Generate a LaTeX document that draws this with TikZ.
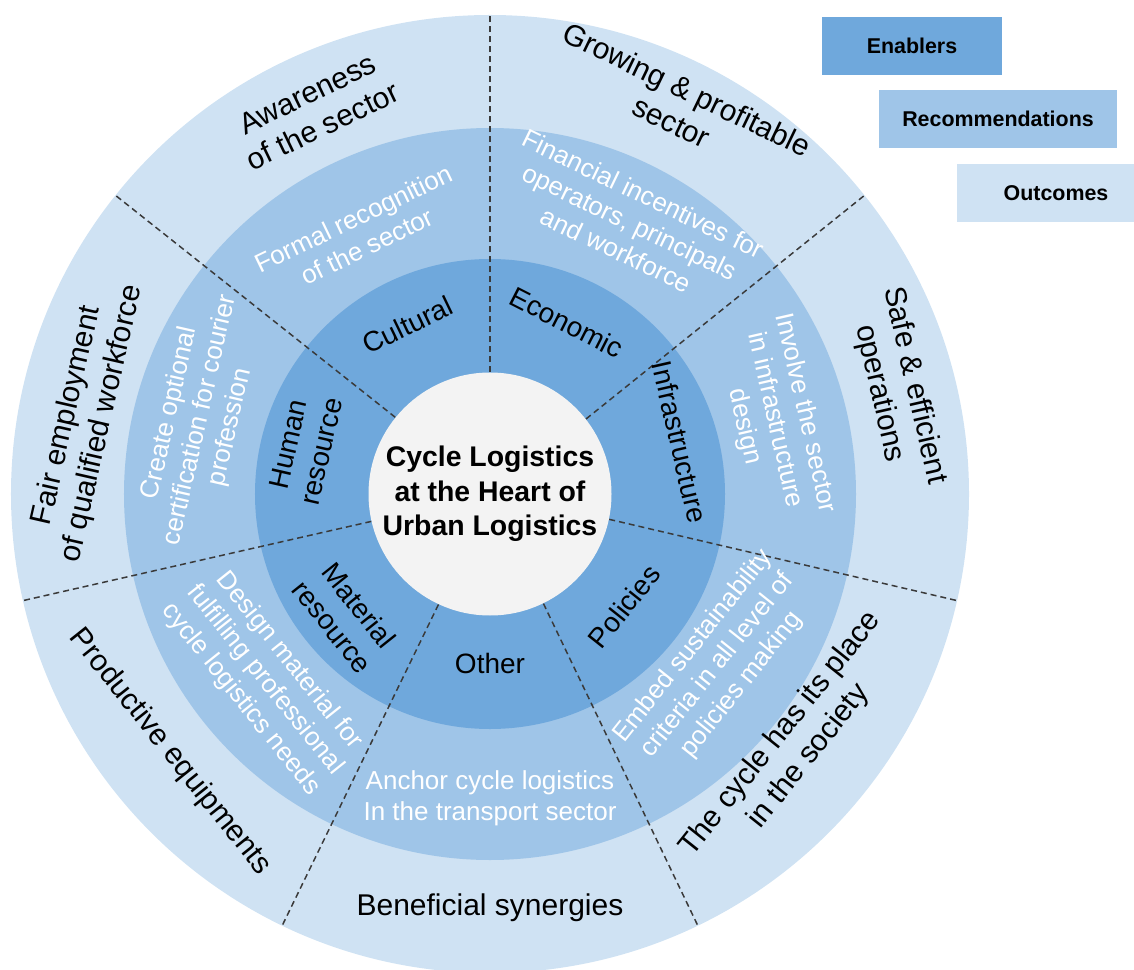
\documentclass[tikz,border=0pt]{standalone}
\usepackage{fontspec}
\setmainfont{Liberation Sans}
\usetikzlibrary{positioning}

\definecolor{outc}{HTML}{CFE2F3}
\definecolor{recm}{HTML}{9FC5E8}
\definecolor{enab}{HTML}{6FA8DC}
\definecolor{hubfill}{HTML}{F3F3F3}
\definecolor{divgray}{HTML}{3A3A3A}

\begin{document}
\begin{tikzpicture}[
    x=0.5pt, y=0.5pt,
    outlbl/.style={align=center, inner sep=0pt, font=\fontsize{15}{18}\selectfont},
    reclbl/.style={align=center, inner sep=0pt, text=white, font=\fontsize{13}{15.5}\selectfont},
    enlbl/.style={align=center, inner sep=0pt, font=\fontsize{14}{17}\selectfont},
    hubnode/.style={circle, fill=hubfill, minimum size=121.5pt, inner sep=0pt, align=center, font=\bfseries\fontsize{14.2}{17.2}\selectfont},
    legbox/.style={minimum height=29pt, inner sep=0pt, font=\bfseries\fontsize{10.7}{12}\selectfont},
    divider/.style={draw=divgray, line width=0.75pt, dash pattern=on 3pt off 2pt},
]
\useasboundingbox (-490,-475) rectangle (644,494);
\clip (-490,-475) rectangle (644,494);

% rings
\fill[outc] (0,0) circle (479);
\fill[recm] (0,0) circle (366);
\fill[enab] (0,0) circle (235);

\node[hubnode] (hub) at (0,0) {Cycle Logistics\\at the Heart of\\Urban Logistics};

% sector borders
\draw[divider] (hub.90) -- (90:479);
\draw[divider] (hub.38.57) -- (38.57:479);
\draw[divider] (hub.-12.86) -- (-12.86:481);
\draw[divider] (hub.-64.29) -- (-64.29:479);
\draw[divider] (hub.-115.71) -- (-115.71:479);
\draw[divider] (hub.-167.14) -- (-167.14:479);
\draw[divider] (hub.141.43) -- (141.43:479);

% enablers
\node[enlbl, rotate=-27] (en_eco) at (65.9:188) {Economic};
\node[enlbl, rotate=-77.14] (en_inf) at (15.3:197) {Infrastructure};
\node[enlbl, rotate=51.43] (en_pol) at (-40:175) {Policies};
\node[enlbl] (en_oth) at (-90:169) {Other};
\node[enlbl, rotate=-51.43] (en_mat) at (-139.7:189) {Material\\resource};
\node[enlbl, rotate=77.14] (en_hum) at (166:191) {Human\\resource};
\node[enlbl, rotate=25.71] (en_cul) at (116:188) {Cultural};

% recommendations
\node[reclbl, rotate=-25.71] (rec_fin) at (62.8:306) {Financial incentives for\\operators, principals\\and workforce};
\node[reclbl, rotate=-77.14] (rec_inv) at (14.6:294) {Involve the sector\\in infrastructure\\design};
\node[reclbl, rotate=51.43] (rec_emb) at (-37:285) {Embed sustainability\\criteria in all level of\\policies making};
\node[reclbl] (rec_anc) at (-90:304) {Anchor cycle logistics\\In the transport sector};
\node[reclbl, rotate=-51.43] (rec_des) at (-140.4:292) {Design material for\\fulfilling professional\\cycle logistics needs};
\node[reclbl, rotate=77.14] (rec_cre) at (165.7:299) {Create optional\\certification for courier\\profession};
\node[reclbl, rotate=25.71] (rec_for) at (116.4:292) {Formal recognition\\of the sector};

% outcomes
\node[outlbl, rotate=-25.71] (out_grow) at (64:432) {Growing \& profitable\\sector};
\node[outlbl, rotate=-77.14] (out_safe) at (14.4:420) {Safe \& efficient\\operations};
\node[outlbl, rotate=51.43] (out_place) at (-39.5:395) {The cycle has its place\\in the society};
\node[outlbl] (out_syn) at (-90:414) {Beneficial synergies};
\node[outlbl, rotate=-51.43] (out_equip) at (-141.1:411) {Productive equipments};
\node[outlbl, rotate=77.14] (out_fair) at (169.6:412) {Fair employment\\of qualified workforce};
\node[outlbl, rotate=25.71] (out_aware) at (114.5:422) {Awareness\\of the sector};

% legend
\node[legbox, fill=enab, minimum width=90pt] (leg_en) at (422,448) {Enablers};
\node[legbox, fill=recm, minimum width=119pt] (leg_rec) at (508,375) {Recommendations};
\node[legbox, fill=outc, minimum width=99pt] (leg_out) at (566,301) {Outcomes};

\end{tikzpicture}
\end{document}
